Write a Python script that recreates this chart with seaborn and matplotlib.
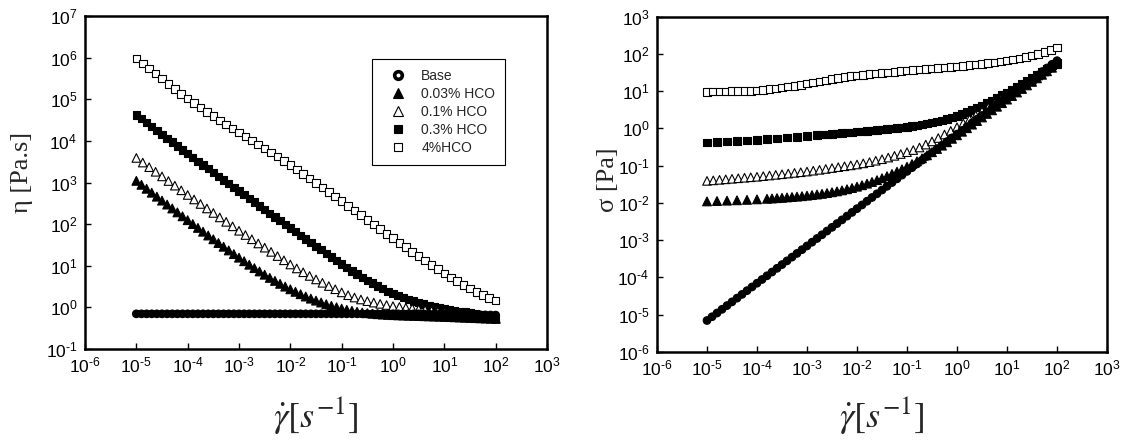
import numpy as np
import pandas as pd
import matplotlib
matplotlib.use("Agg")
import matplotlib.pyplot as plt
import seaborn as sns
from matplotlib.lines import Line2D
from matplotlib.ticker import FixedLocator, FuncFormatter, NullLocator

# ---------------- data ----------------
series_labels = ["Base", "0.03% HCO", "0.1% HCO", "0.3% HCO", "4%HCO"]

# log10 shear-rate grids of the sweep (points per decade as seen in the chart)
log_rate_base = np.round(np.arange(-5.0, 2.0001, 0.1), 3)
log_rate_003 = np.round(np.concatenate([np.arange(-5.0, -3.79, 0.2), np.arange(-3.7, 2.0001, 0.1)]), 3)
log_rate_01 = np.round(np.arange(-5.0, 2.0001, 0.125), 3)
log_rate_03 = np.round(np.concatenate([np.arange(-5.0, -2.79, 0.2), np.arange(-2.7, 2.0001, 0.1)]), 3)
log_rate_4 = np.round(np.arange(-5.0, 2.0001, 0.125), 3)

# log10 viscosity [Pa.s]
log_eta_base = [
    -0.155, -0.155, -0.155, -0.155, -0.155, -0.155, -0.155, -0.155, -0.155, -0.155,
    -0.155, -0.155, -0.155, -0.155, -0.155, -0.155, -0.155, -0.155, -0.155, -0.155,
    -0.155, -0.155, -0.155, -0.155, -0.155, -0.155, -0.155, -0.155, -0.155, -0.155,
    -0.155, -0.155, -0.155, -0.155, -0.155, -0.155, -0.155, -0.155, -0.155, -0.155,
    -0.155, -0.155, -0.155, -0.155, -0.155, -0.155, -0.155, -0.155, -0.155, -0.155,
    -0.155, -0.155, -0.155, -0.155, -0.155, -0.155,
    -0.157, -0.159, -0.161, -0.163, -0.165, -0.167, -0.169, -0.171, -0.173, -0.175,
    -0.177, -0.179, -0.181, -0.183, -0.185,
]
log_eta_003 = [
    3.040, 2.850, 2.660, 2.470, 2.282, 2.095, 1.910,
    1.818, 1.727, 1.636, 1.546, 1.457, 1.368, 1.280, 1.194, 1.109, 1.025,
    0.943, 0.863, 0.785, 0.709, 0.636, 0.566, 0.499, 0.435, 0.374, 0.316,
    0.261, 0.210, 0.162, 0.117, 0.075, 0.037, 0.002, -0.030, -0.058, -0.083,
    -0.105, -0.124, -0.140, -0.153, -0.164, -0.173, -0.180, -0.186, -0.191, -0.196,
    -0.200, -0.204, -0.208, -0.212, -0.216, -0.220, -0.224, -0.228, -0.233, -0.238,
    -0.243, -0.248, -0.253, -0.258, -0.263, -0.268, -0.273, -0.278,
]
log_eta_01 = [
    3.590, 3.479, 3.368, 3.257, 3.146, 3.035, 2.924, 2.812, 2.700,
    2.592, 2.484, 2.376, 2.268, 2.161, 2.054, 1.947, 1.840,
    1.738, 1.636, 1.535, 1.434, 1.333, 1.232, 1.131, 1.030,
    0.935, 0.843, 0.755, 0.671, 0.590, 0.512, 0.435, 0.360,
    0.292, 0.236, 0.189, 0.149, 0.114, 0.084, 0.056, 0.030,
    0.011, -0.008, -0.027, -0.045, -0.064, -0.083, -0.101, -0.120,
    -0.138, -0.155, -0.173, -0.190, -0.208, -0.225, -0.243, -0.260,
]
log_eta_03 = [
    4.625, 4.437, 4.250, 4.062, 3.876, 3.690, 3.510, 3.330, 3.150, 2.972, 2.795, 2.617,
    2.528, 2.439, 2.350, 2.261, 2.172, 2.083, 1.995, 1.908, 1.820, 1.732,
    1.644, 1.557, 1.470, 1.383, 1.296, 1.210, 1.124, 1.040, 0.958, 0.878,
    0.800, 0.725, 0.653, 0.583, 0.515, 0.450, 0.388, 0.330, 0.282, 0.237,
    0.195, 0.156, 0.119, 0.084, 0.050, 0.023, -0.005, -0.032, -0.052, -0.072,
    -0.092, -0.113, -0.134, -0.156, -0.178, -0.200, -0.223, -0.246,
]
log_eta_4 = [
    5.980, 5.858, 5.736, 5.615, 5.494, 5.373, 5.253, 5.133, 5.015,
    4.905, 4.800, 4.695, 4.592, 4.492, 4.393, 4.295, 4.198,
    4.103, 4.008, 3.913, 3.818, 3.720, 3.622, 3.521, 3.418,
    3.311, 3.203, 3.095, 2.986, 2.877, 2.768, 2.659, 2.550,
    2.439, 2.328, 2.217, 2.105, 1.993, 1.881, 1.770, 1.660,
    1.552, 1.444, 1.337, 1.230, 1.125, 1.020, 0.917, 0.815,
    0.720, 0.628, 0.540, 0.455, 0.375, 0.300, 0.230, 0.165,
]

# extra low-rate points that the viscosity panel shows (denser there)
log_rate_003_extra = [-4.9, -4.7, -4.5, -4.3, -4.1, -3.9]
log_eta_003_extra = [2.945, 2.755, 2.565, 2.376, 2.188, 2.002]
log_rate_03_extra = [-4.9, -4.7, -4.5, -4.3, -4.1, -3.9, -3.7, -3.5, -3.3, -3.1, -2.9]
log_eta_03_extra = [4.531, 4.343, 4.156, 3.969, 3.783, 3.600, 3.420, 3.240, 3.061, 2.883, 2.706]

x_ticks_exp = list(range(-6, 4))
y1_ticks_exp = list(range(-1, 8))
y2_ticks_exp = list(range(-6, 4))

# ---------------- build tables ----------------
def make_frame(name, lr, le):
    rate = 10.0 ** np.asarray(lr, dtype=float)
    eta = 10.0 ** np.asarray(le, dtype=float)
    return pd.DataFrame({"rate": rate, "eta": eta, "sigma": eta * rate, "series": name})

order = [
    ("4%HCO", log_rate_4, log_eta_4),
    ("0.3% HCO", log_rate_03, log_eta_03),
    ("0.1% HCO", log_rate_01, log_eta_01),
    ("0.03% HCO", log_rate_003, log_eta_003),
    ("Base", log_rate_base, log_eta_base),
]
df_right = pd.concat([make_frame(*o) for o in order], ignore_index=True)

extras = {"0.03% HCO": (log_rate_003_extra, log_eta_003_extra),
          "0.3% HCO": (log_rate_03_extra, log_eta_03_extra)}
left_frames = []
for name, lr, le in order:
    f = make_frame(name, lr, le)
    if name in extras:
        f = pd.concat([f, make_frame(name, *extras[name])]).sort_values("rate")
    left_frames.append(f)
df_left = pd.concat(left_frames, ignore_index=True)

palette = {"Base": "black", "0.03% HCO": "black", "0.1% HCO": "white",
           "0.3% HCO": "black", "4%HCO": "white"}
markers = {"Base": "o", "0.03% HCO": "^", "0.1% HCO": "^", "0.3% HCO": "s", "4%HCO": "s"}
sizes = {"Base": 30, "0.03% HCO": 40, "0.1% HCO": 38, "0.3% HCO": 28, "4%HCO": 30}

# ---------------- style ----------------
sns.set_style("white")
plt.rcParams["font.family"] = ["Liberation Sans", "DejaVu Sans"]
plt.rcParams["mathtext.fontset"] = "custom"
plt.rcParams["mathtext.rm"] = "Liberation Sans"
plt.rcParams["mathtext.it"] = "Liberation Sans:italic"
plt.rcParams["mathtext.bf"] = "Liberation Sans:bold"

fig = plt.figure(figsize=(11.29, 4.41), dpi=100)
ax1 = fig.add_axes([85 / 1129, 1 - 349 / 441, 462 / 1129, 333 / 441])
ax2 = fig.add_axes([657 / 1129, 1 - 352 / 441, 450 / 1129, 335.5 / 441])

for ax, data, ycol in [(ax1, df_left, "eta"), (ax2, df_right, "sigma")]:
    sns.scatterplot(data=data, x="rate", y=ycol, hue="series", style="series", size="series",
                    palette=palette, markers=markers, sizes=sizes,
                    edgecolor="black", linewidth=0.8, legend=False, ax=ax, zorder=3)

HYPHEN = "\u2010"


def exp_label(v, p):
    e = int(round(np.log10(v)))
    if e < 0:
        return "$\\mathregular{10^{" + HYPHEN + str(-e) + "}}$"
    return "$\\mathregular{10^{" + str(e) + "}}$"


fmt = FuncFormatter(exp_label)


def style_axis(ax, yexps):
    ax.set_xscale("log")
    ax.set_yscale("log")
    ax.set_xlim(10.0 ** x_ticks_exp[0], 10.0 ** x_ticks_exp[-1])
    ax.set_ylim(10.0 ** yexps[0], 10.0 ** yexps[-1])
    ax.xaxis.set_major_locator(FixedLocator([10.0 ** e for e in x_ticks_exp]))
    ax.yaxis.set_major_locator(FixedLocator([10.0 ** e for e in yexps]))
    ax.xaxis.set_minor_locator(NullLocator())
    ax.yaxis.set_minor_locator(NullLocator())
    ax.xaxis.set_major_formatter(fmt)
    ax.yaxis.set_major_formatter(fmt)
    ax.tick_params(axis="both", which="major", direction="in", length=4, width=1,
                   labelsize=12.5, bottom=True, left=True, top=False, right=False,
                   colors="black")
    ax.tick_params(axis="y", pad=5.5)
    ax.tick_params(axis="x", pad=5)
    for s in ax.spines.values():
        s.set_visible(True)
        s.set_color("black")
        s.set_linewidth(1.8)
    ax.set_facecolor("white")


style_axis(ax1, y1_ticks_exp)
style_axis(ax2, y2_ticks_exp)

xlabel = r"$\dot{\gamma}\left[s^{-1}\right]$"
for ax, yb in [(ax1, -0.135), (ax2, -0.125)]:
    ax.set_xlabel(xlabel, fontsize=26, math_fontfamily="stix")
    ax.xaxis.set_label_coords(0.5, yb)

ax1.set_ylabel("η [Pa.s]", fontsize=19, family="Liberation Serif")
ax1.yaxis.set_label_coords(-0.113, 0.53)
ax2.set_ylabel("σ [Pa]", fontsize=19, family="Liberation Serif")
ax2.yaxis.set_label_coords(-0.085, 0.515)

handles = [
    Line2D([], [], ls="none", marker="o", ms=5.5, mfc="white", mec="black", mew=2.6),
    Line2D([], [], ls="none", marker="^", ms=7, mfc="black", mec="black", mew=0.8),
    Line2D([], [], ls="none", marker="^", ms=7, mfc="white", mec="black", mew=0.8),
    Line2D([], [], ls="none", marker="s", ms=6, mfc="black", mec="black", mew=0.8),
    Line2D([], [], ls="none", marker="s", ms=6, mfc="white", mec="black", mew=0.8),
]
leg = ax1.legend(handles, series_labels, loc="upper left", bbox_to_anchor=(0.621, 0.871),
                 frameon=True, fancybox=False, shadow=False, fontsize=10,
                 handlelength=2.3, handletextpad=0.55, borderpad=0.7, labelspacing=0.3,
                 borderaxespad=0)
leg.get_frame().set_edgecolor("black")
leg.get_frame().set_linewidth(0.8)
leg.get_frame().set_facecolor("white")
leg.get_frame().set_alpha(1)

fig.savefig("out.png", dpi=100, facecolor="white")
